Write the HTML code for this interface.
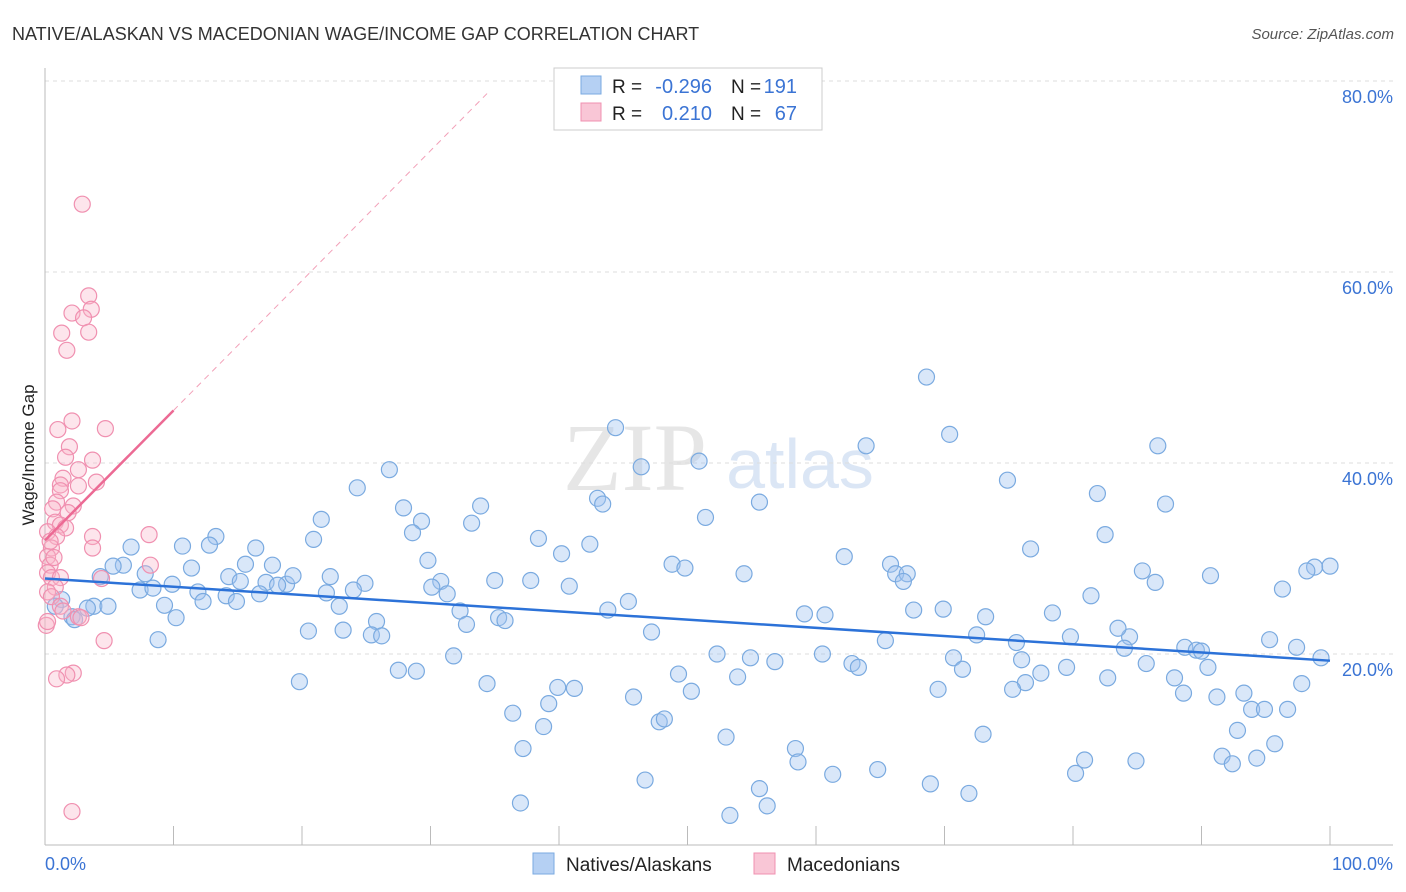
<!DOCTYPE html>
<html><head><meta charset="utf-8"><style>
body{margin:0;background:#fff;font-family:"Liberation Sans",sans-serif;}
#c{position:relative;width:1406px;height:892px;overflow:hidden}
</style></head><body>
<div id="c">
<svg id="svg" width="1406" height="892" xmlns="http://www.w3.org/2000/svg">
<text x="12" y="40" font-size="18" fill="#333">NATIVE/ALASKAN VS MACEDONIAN WAGE/INCOME GAP CORRELATION CHART</text>
<text x="1394" y="39" font-size="15" fill="#555" font-style="italic" text-anchor="end">Source: ZipAtlas.com</text>
<text x="635" y="490" font-size="96" fill="#e6e6e6" font-family="Liberation Serif,serif" text-anchor="middle">ZIP</text>
<text x="800" y="488" font-size="70" fill="#dbe6f5" text-anchor="middle">atlas</text>
<g id="grid"></g>
<g id="marks"></g>
<text transform="translate(34,455) rotate(-90)" font-size="17" fill="#222" text-anchor="middle">Wage/Income Gap</text>
<text x="45" y="870" font-size="18" fill="#3b74d4">0.0%</text>
<text x="1393" y="870" font-size="18" fill="#3b74d4" text-anchor="end">100.0%</text>
<g>
<rect x="554" y="68" width="268" height="62" fill="#fff" stroke="#ccc"/>
<rect x="581" y="76" width="20" height="18" fill="#b5d0f3" stroke="#7aaae0"/>
<rect x="581" y="103" width="20" height="18" fill="#f9c6d6" stroke="#f090b0"/>
<text x="612" y="93" font-size="19" fill="#222">R =</text>
<text x="712" y="93" font-size="20" fill="#3b74d4" text-anchor="end">-0.296</text>
<text x="731" y="93" font-size="19" fill="#222">N =</text>
<text x="797" y="93" font-size="20" fill="#3b74d4" text-anchor="end">191</text>
<text x="612" y="120" font-size="19" fill="#222">R =</text>
<text x="712" y="120" font-size="20" fill="#3b74d4" text-anchor="end">0.210</text>
<text x="731" y="120" font-size="19" fill="#222">N =</text>
<text x="797" y="120" font-size="20" fill="#3b74d4" text-anchor="end">67</text>
</g>
<g>
<rect x="533" y="853" width="21" height="21" fill="#b5d0f3" stroke="#7aaae0"/>
<text x="566" y="871" font-size="19" fill="#222">Natives/Alaskans</text>
<rect x="754" y="853" width="21" height="21" fill="#f9c6d6" stroke="#f090b0"/>
<text x="787" y="871" font-size="19" fill="#222">Macedonians</text>
</g>
</svg>
</div>
<script>
const yTicks=[20,40,60,80];
const xTicks=[0,10,20,30,40,50,60,70,80,90,100];
const blueX=[68.6,44.4,70.4,63.9,86.6,46.4,50.9,26.8,74.9,24.3,81.9,43.0,43.4,55.6,33.9,27.9,87.2,21.5,29.3,33.2,51.4,28.6,13.3,38.4,82.5,20.9,10.7,12.8,6.7,42.4,16.4,76.7,40.2,62.2,29.8,6.1,5.3,11.4,15.6,17.7,48.8,49.8,65.8,98.8,100.0,98.2,66.2,67.1,66.8,85.4,90.7,7.8,4.3,14.3,22.2,24.9,30.8,35.0,37.8,54.4,86.4,9.9,17.2,18.8,19.3,15.2,18.1,7.4,8.4,11.9,24.0,30.1,31.3,40.8,96.3,14.1,16.7,12.3,14.9,21.9,22.9,9.3,45.4,81.4,3.8,4.9,3.3,1.3,0.8,10.2,32.3,43.8,59.1,60.7,69.9,67.6,73.2,78.4,32.8,35.3,35.8,25.8,23.2,25.4,26.2,20.5,47.2,72.5,79.8,84.4,83.5,88.7,89.6,90.0,75.6,84.0,95.3,97.4,8.8,65.4,52.3,54.9,60.5,56.8,62.8,63.3,70.7,76.0,71.4,79.5,85.7,90.5,99.3,31.8,27.5,28.9,49.3,53.9,77.5,82.7,87.9,19.8,34.4,39.9,41.2,50.3,69.5,76.3,75.3,88.6,91.2,93.3,97.8,45.8,39.2,93.9,94.9,96.7,36.4,47.8,48.2,38.8,53.0,73.0,92.8,37.2,58.4,58.6,80.9,84.9,91.6,94.3,95.7,92.4,61.3,64.8,80.2,46.7,68.9,55.6,71.9,37.0,56.2,53.3,2.1,2.3];
const blueY=[49.0,43.7,43.0,41.8,41.8,39.6,40.2,39.3,38.2,37.4,36.8,36.3,35.7,35.9,35.5,35.3,35.7,34.1,33.9,33.7,34.3,32.7,32.3,32.1,32.5,32.0,31.3,31.4,31.2,31.5,31.1,31.0,30.5,30.2,29.8,29.3,29.2,29.0,29.4,29.3,29.4,29.0,29.4,29.1,29.2,28.7,28.4,28.4,27.6,28.7,28.2,28.4,28.1,28.1,28.1,27.4,27.6,27.7,27.7,28.4,27.5,27.3,27.5,27.3,28.2,27.6,27.2,26.7,26.9,26.5,26.7,27.0,26.3,27.1,26.8,26.1,26.3,25.5,25.5,26.4,25.0,25.1,25.5,26.1,25.0,25.0,24.8,25.7,25.0,23.8,24.5,24.6,24.2,24.1,24.7,24.6,23.9,24.3,23.1,23.8,23.5,23.4,22.5,22.0,21.9,22.4,22.3,22.0,21.8,21.8,22.7,20.7,20.4,20.3,21.2,20.6,21.5,20.7,21.5,21.4,20.0,19.6,20.0,19.2,19.0,18.6,19.6,19.4,18.4,18.6,19.0,18.6,19.6,19.8,18.3,18.2,17.9,17.6,18.0,17.5,17.5,17.1,16.9,16.5,16.4,16.1,16.3,17.0,16.3,15.9,15.5,15.9,16.9,15.5,14.8,14.2,14.2,14.2,13.8,12.9,13.2,12.4,11.3,11.6,12.0,10.1,10.1,8.7,8.9,8.8,9.3,9.1,10.6,8.5,7.4,7.9,7.5,6.8,6.4,5.9,5.4,4.4,4.1,3.1,23.9,23.6];
const pinkX=[2.9,3.4,3.6,2.1,3.0,1.3,3.4,1.7,2.1,4.7,1.0,1.9,1.6,3.7,2.6,1.4,4.0,2.6,1.2,1.2,0.9,2.2,0.6,1.8,0.8,1.2,1.6,0.2,0.9,3.7,0.5,3.7,8.1,0.2,0.4,8.2,0.2,0.5,1.2,4.4,0.8,0.2,0.5,1.2,1.4,2.6,2.8,0.1,0.2,4.6,2.2,1.7,0.9,2.1,0.4,0.7];
const pinkY=[67.1,57.5,56.1,55.7,55.2,53.6,53.7,51.8,44.4,43.6,43.5,41.7,40.6,40.3,39.3,38.4,38.0,37.6,37.7,37.1,35.9,35.5,35.2,34.8,33.8,33.5,33.2,32.8,32.3,32.3,31.1,31.1,32.5,30.2,29.3,29.3,28.5,28.0,28.0,27.9,27.0,26.5,26.0,25.0,24.5,23.9,23.8,23.0,23.4,21.4,18.0,17.8,17.4,3.5,31.8,30.1];
const blueTrend=[27.9,19.3];
const pinkTrend=[31.9,1.36];
const NS="http://www.w3.org/2000/svg";
const sx=v=>45+v*12.85, sy=v=>845-v*9.55;
function mk(tag,attrs,parent){const e=document.createElementNS(NS,tag);for(const k in attrs)e.setAttribute(k,attrs[k]);parent.appendChild(e);return e;}
const grid=document.getElementById('grid'), marks=document.getElementById('marks');
yTicks.forEach(t=>{
 const l=mk('line',{x1:45,x2:1393,y1:sy(t),y2:sy(t),stroke:'#ddd','stroke-dasharray':'4,4'},grid);
 
 
 const tx=mk('text',{x:1393,y:sy(t)+22,'font-size':18,fill:'#3b74d4','text-anchor':'end'},grid);
 tx.textContent=t.toFixed(1)+'%';
 
 
});
const ax=mk('line',{x1:45,x2:1393,y1:845,y2:845,stroke:'#bbb'},grid);


const ay=mk('line',{x1:45,x2:45,y1:68,y2:845,stroke:'#bbb'},grid);


xTicks.forEach(t=>{
 const l=mk('line',{x1:sx(t),x2:sx(t),y1:826,y2:845,stroke:'#bbb'},grid);
 
 
});
blueX.forEach((x,i)=>{
 const c=mk('circle',{cx:sx(x),cy:sy(blueY[i]),r:8,fill:'rgba(160,195,240,0.4)',stroke:'#7aaae0','stroke-width':1.2},marks);
 
 
});
pinkX.forEach((x,i)=>{
 const c=mk('circle',{cx:sx(x),cy:sy(pinkY[i]),r:8,fill:'rgba(248,180,200,0.35)',stroke:'#f090b0','stroke-width':1.2},marks);
 
 
});
const bt=mk('line',{x1:sx(0),y1:sy(blueTrend[0]),x2:sx(100),y2:sy(blueTrend[1]),stroke:'#2c72d8','stroke-width':2.5},marks);


const pd=mk('line',{x1:sx(10),y1:sy(pinkTrend[0]+pinkTrend[1]*10),x2:sx(34.4),y2:sy(pinkTrend[0]+pinkTrend[1]*34.4),stroke:'#f2a0b8','stroke-width':1,'stroke-dasharray':'6,5'},marks);


const pt=mk('line',{x1:sx(0),y1:sy(pinkTrend[0]),x2:sx(10),y2:sy(pinkTrend[0]+pinkTrend[1]*10),stroke:'#ec6a94','stroke-width':2.5},marks);


</script>
</body></html>
